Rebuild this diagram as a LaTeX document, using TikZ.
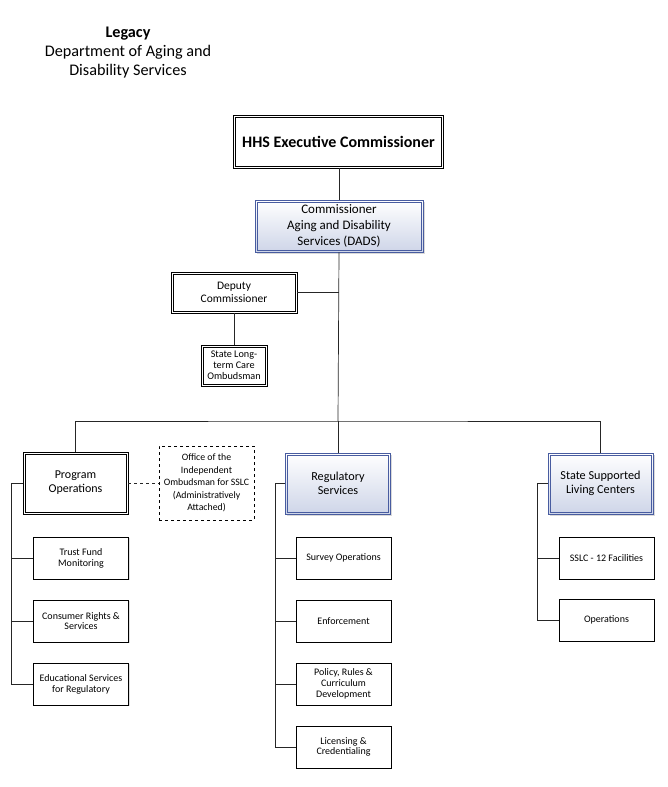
\documentclass[tikz,border=0pt]{standalone}
\usepackage{fontspec}
\setmainfont{Carlito}
\usetikzlibrary{shadows}
\definecolor{dadsblue}{RGB}{72,92,160}
\definecolor{dadsfill}{RGB}{206,213,232}
\tikzset{
  conn/.style={line width=0.7pt, color=black!85},
  headbox/.style={draw, line width=0.6pt, fill=white, align=center, inner sep=1pt},
  bluebox/.style={draw=dadsblue, line width=0.7pt, top color=white, bottom color=dadsfill,
    drop shadow={shadow xshift=1.5pt, shadow yshift=-1.5pt, opacity=0.3}, align=center, inner sep=1pt,
    minimum width=105pt, minimum height=61pt, font=\fontsize{12.2}{13.5}\selectfont},
  unitbox/.style={draw, line width=0.6pt, fill=white, drop shadow={shadow xshift=1.2pt, shadow yshift=-1.2pt, opacity=0.25},
    align=center, inner sep=1pt, minimum width=95pt, minimum height=42pt, font=\fontsize{10}{10.8}\selectfont},
  innerline/.style={line width=0.6pt},
}
\begin{document}
\begin{tikzpicture}[x=1pt, y=-1pt]
  \useasboundingbox (0,0) rectangle (667,787);
  \node[align=center, font=\fontsize{16.2}{19}\selectfont] (title) at (128,53)
    {\textbf{Legacy}\\Department of Aging and\\Disability Services};

  \node[headbox, minimum width=210pt, minimum height=53pt, font=\bfseries\fontsize{16}{18}\selectfont] (hhs) at (338.5,141.5)
    {HHS Executive Commissioner};
  \node[bluebox, minimum width=168pt, minimum height=52pt, font=\fontsize{13}{16}\selectfont] (dads) at (339,226)
    {Commissioner\\Aging and Disability\\Services (DADS)};
  \node[headbox, minimum width=126pt, minimum height=41pt, font=\fontsize{11.5}{13.3}\selectfont] (deputy) at (234,292.5)
    {Deputy\\Commissioner};
  \node[headbox, minimum width=66pt, minimum height=41pt, font=\fontsize{10.2}{11}\selectfont] (ltc) at (234,365.5)
    {State Long-\\term Care\\Ombudsman};

  \node[headbox, minimum width=105pt, minimum height=62pt, font=\fontsize{12}{14}\selectfont] (progops) at (75.5,483)
    {Program\\Operations};
  \node[draw, dashed, line width=0.6pt, align=center, inner sep=1pt, minimum width=95pt, minimum height=74pt,
    font=\fontsize{9.8}{12.6}\selectfont] (oio) at (206.5,483)
    {Office of the\\Independent\\Ombudsman for SSLC\\(Administratively\\Attached)};
  \node[bluebox] (regserv) at (338,483.5) {Regulatory\\Services};
  \node[bluebox] (sslc) at (600.5,483.5) {State Supported\\Living Centers};

  \node[unitbox] (trust) at (81,558) {Trust Fund\\Monitoring};
  \node[unitbox] (rights) at (81,621) {Consumer Rights \&\\Services};
  \node[unitbox] (edu) at (81,684) {Educational Services\\for Regulatory};

  \node[unitbox] (survey) at (343.5,558) {Survey Operations};
  \node[unitbox] (enforce) at (343.5,621) {Enforcement};
  \node[unitbox] (policy) at (343.5,684) {Policy, Rules \&\\Curriculum\\Development};
  \node[unitbox] (licens) at (343.5,747) {Licensing \&\\Credentialing};

  \node[unitbox] (facil) at (606.5,558) {SSLC - 12 Facilities};
  \node[unitbox] (oper) at (606.5,620) {Operations};

  \foreach \n in {hhs, deputy, ltc, progops}
    \draw[innerline] ([shift={(2.2pt,-2.2pt)}]\n.north west) rectangle ([shift={(-2.2pt,2.2pt)}]\n.south east);
  \foreach \n in {dads, regserv, sslc}
    \draw[innerline, dadsblue] ([shift={(2.4pt,-2.4pt)}]\n.north west) rectangle ([shift={(-2.4pt,2.4pt)}]\n.south east);

  \coordinate (bus) at (338,421);
  \draw[conn] (hhs.south) -- (dads.south |- hhs.south) -- (dads.north);
  \draw[conn] (dads.south) -- (bus);
  \draw[conn] (deputy.east) -- (deputy.east -| dads.south);
  \draw[conn] (deputy.south) -- (ltc.north);
  \draw[conn] (progops.north) |- (bus) -| (sslc.north);
  \draw[conn] (bus) -- (regserv.north);
  \draw[conn, dashed] (progops.east) -- (oio.west);
  \foreach \c in {trust, rights, edu}
    \draw[conn] (progops.west) -- ++(-11,0) |- (\c.west);
  \foreach \c in {survey, enforce, policy, licens}
    \draw[conn] (regserv.west) -- ++(-10,0) |- (\c.west);
  \foreach \c in {facil, oper}
    \draw[conn] (sslc.west) -- ++(-10,0) |- (\c.west);
\end{tikzpicture}
\end{document}
